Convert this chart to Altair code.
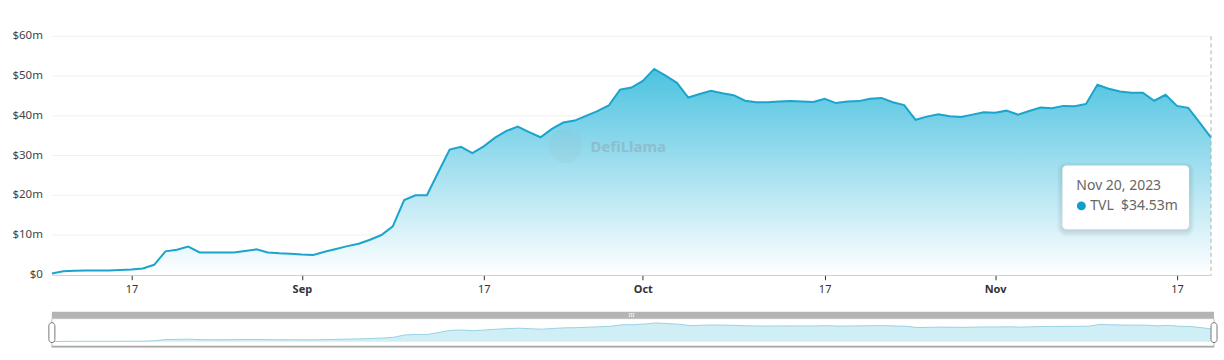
import altair as alt
import pandas as pd

# ---- data (TVL in $ millions, daily from 2023-08-10 to 2023-11-20) ----
start_date = "2023-08-10"
tvl_m = [
    0.3, 0.9, 1.0, 1.05, 1.1, 1.1, 1.2, 1.3, 1.6, 2.5,
    5.9, 6.3, 7.1, 5.6, 5.6, 5.6, 5.6, 6.0, 6.4, 5.6,
    5.4, 5.3, 5.1, 5.0, 5.8, 6.5, 7.2, 7.8, 8.8, 10.0,
    12.2, 18.8, 20.0, 20.0, 25.8, 31.5, 32.2, 30.6, 32.3, 34.5,
    36.2, 37.3, 35.9, 34.6, 36.7, 38.3, 38.8, 40.0, 41.2, 42.6,
    46.6, 47.1, 48.8, 51.8, 50.1, 48.3, 44.6, 45.5, 46.3, 45.7,
    45.2, 43.8, 43.4, 43.4, 43.6, 43.7, 43.6, 43.5, 44.3, 43.2,
    43.6, 43.7, 44.3, 44.5, 43.4, 42.7, 39.0, 39.8, 40.4, 39.9,
    39.7, 40.3, 40.9, 40.8, 41.3, 40.3, 41.2, 42.1, 41.9, 42.5,
    42.4, 43.0, 47.8, 46.8, 46.1, 45.8, 45.8, 43.8, 45.3, 42.5,
    42.0, 38.3, 34.53,
]
x_tick_dates = ["2023-08-17", "2023-09-01", "2023-09-17", "2023-10-01",
                "2023-10-17", "2023-11-01", "2023-11-17"]
y_ticks = [0, 10, 20, 30, 40, 50, 60]
series_name = "TVL"
watermark = "DefiLlama"

dates = pd.date_range(start_date, periods=len(tvl_m), freq="D")
df = pd.DataFrame({"date": dates.strftime("%Y-%m-%d"), "tvl": tvl_m})
ticks_df = pd.DataFrame({"tvl": y_ticks})


def ms(d):
    return int(pd.Timestamp(d, tz="UTC").timestamp() * 1000)


x_domain = [ms(dates[0]), ms(dates[-1])]
x_values = [ms(d) for d in x_tick_dates]

last = df.iloc[[-1]].copy()
last["label_date"] = dates[-1].strftime("%b %d, %Y").replace(" 0", " ")
last["label_val"] = f"{series_name}\u00a0\u00a0${tvl_m[-1]:.2f}m"

FONT = "Noto Sans"
W, H = 1162, 239
MW, MH = 1165, 36

x_main = alt.X(
    "date:T",
    title=None,
    scale=alt.Scale(type="utc", domain=x_domain),
    axis=alt.Axis(
        values=x_values,
        labelExpr="utcdate(datum.value) == 1 ? utcFormat(datum.value, '%b') : utcFormat(datum.value, '%d')",
        labelFontWeight={"condition": {"test": "utcdate(datum.value) == 1", "value": "bold"}, "value": "normal"},
        grid=False,
        domainColor="#b8b8b8",
        tickColor="#333333",
        tickSize=5,
        labelColor="#333333",
        labelFont=FONT,
        labelFontSize=11,
        labelPadding=4,
        labelOverlap=False,
    ),
)
y_main = alt.Y("tvl:Q", title=None, scale=alt.Scale(domain=[0, 60], nice=False), axis=None)

# y grid + labels drawn through the y scale
grid = alt.Chart(ticks_df).mark_rule(color="#f0f0f0", strokeWidth=1).encode(
    y=y_main, x=alt.value(0), x2=alt.value(W))
ylabels = alt.Chart(ticks_df).transform_calculate(
    lab="datum.tvl == 0 ? '$0' : '$' + datum.tvl + 'm'"
).mark_text(align="right", baseline="middle", font=FONT, fontSize=11.5, color="#444444").encode(
    y="tvl:Q", x=alt.value(-9), text="lab:N")

base = alt.Chart(df)
area = base.mark_area(
    color=alt.Gradient(
        gradient="linear",
        stops=[alt.GradientStop(color="#4cc2e0", offset=0),
               alt.GradientStop(color="#ffffff", offset=1)],
        x1=1, x2=1, y1=0, y2=1,
    )
).encode(x=x_main, y="tvl:Q")
line = base.mark_line(color="#1ba4cc", strokeWidth=2).encode(x="date:T", y="tvl:Q")

wm = alt.Chart(pd.DataFrame({"t": [watermark]}))
wm_logo = wm.mark_point(shape="circle", filled=True, size=1150, color="#9aa4ac", opacity=0.1).encode(
    x=alt.value(515), y=alt.value(110))
wm_text = wm.mark_text(align="left", baseline="middle", font=FONT, fontSize=15, fontWeight="bold",
                       color="#8c969e", opacity=0.4).encode(x=alt.value(540), y=alt.value(111), text="t:N")

lb = alt.Chart(last)
rule = lb.mark_rule(color="#b0b0b0", strokeDash=[4, 3], strokeWidth=1).encode(
    x="date:T", y=alt.value(0), y2=alt.value(H))
shadows = [
    lb.mark_rect(xOffset=-149 - k, x2Offset=-22 + k, yOffset=28 - k + 2, y2Offset=92 + k + 2,
                 cornerRadius=4 + k, color="#000000", opacity=0.035).encode(
        x="date:T", x2="date:T", y="tvl:Q", y2="tvl:Q")
    for k in (1, 3, 5)
]
box = lb.mark_rect(xOffset=-149, x2Offset=-22, yOffset=28, y2Offset=92, cornerRadius=4,
                   color="#ffffff").encode(x="date:T", x2="date:T", y="tvl:Q", y2="tvl:Q")
t1 = lb.mark_text(align="left", baseline="middle", dx=-135, dy=49, font=FONT, fontSize=14,
                  color="#666666").encode(x="date:T", y="tvl:Q", text="label_date:N")
dot = lb.mark_point(shape="circle", filled=True, size=80, color="#0e9fc9", opacity=1,
                    xOffset=-130, yOffset=68.5).encode(x="date:T", y="tvl:Q")
t2 = lb.mark_text(align="left", baseline="middle", dx=-121, dy=69, font=FONT, fontSize=14,
                  color="#666666").encode(x="date:T", y="tvl:Q", text="label_val:N")

main = alt.layer(grid, area, line, ylabels, wm_logo, wm_text, rule, *shadows, box, t1, dot, t2).properties(
    width=W, height=H)

# ---- mini (data zoom) chart ----
x_mini = alt.X("date:T", title=None, scale=alt.Scale(type="utc", domain=x_domain), axis=None)
y_mini = alt.Y("tvl:Q", title=None, scale=alt.Scale(domain=[-16.3, 83.1], nice=False, zero=False), axis=None)

mini_area = base.mark_area(color="#d0eef5").encode(x=x_mini, y=y_mini, y2=alt.value(35))
mini_line = base.mark_line(color="#9ad2e2", strokeWidth=1).encode(x=x_mini, y=y_mini)

deco = alt.Chart(pd.DataFrame({"g": ["III"]}))
top_bar = deco.mark_rect(color="#b4b4b4").encode(
    x=alt.value(0), x2=alt.value(MW), y=alt.value(0), y2=alt.value(7))
grip = deco.mark_text(color="#ffffff", fontSize=6, font=FONT, baseline="middle").encode(
    x=alt.value(581), y=alt.value(3.5), text="g:N")
frame = deco.mark_rect(fillOpacity=0, stroke="#c4c4c4", strokeWidth=1).encode(
    x=alt.value(0), x2=alt.value(MW), y=alt.value(7), y2=alt.value(35.5))
bottom_line = deco.mark_rule(color="#a8a8a8", strokeWidth=1.5).encode(
    x=alt.value(0), x2=alt.value(MW), y=alt.value(35))

ends = alt.Chart(df.iloc[[0, -1]])
handles = ends.mark_rect(xOffset=-3, x2Offset=3, cornerRadius=3, fill="#ffffff",
                         stroke="#777777", strokeWidth=1).encode(
    x="date:T", x2="date:T", y=alt.value(11), y2=alt.value(31))

mini = alt.layer(mini_area, mini_line, top_bar, grip, frame, bottom_line, handles).properties(
    width=MW, height=MH)

chart = alt.vconcat(main, mini, spacing=37, bounds="flush").properties(
    padding={"left": 12, "top": 30, "right": 6, "bottom": 4},
    background="#ffffff",
).configure_view(stroke=None)

chart.save("out.html", embed_options={"renderer": "svg", "actions": False})
